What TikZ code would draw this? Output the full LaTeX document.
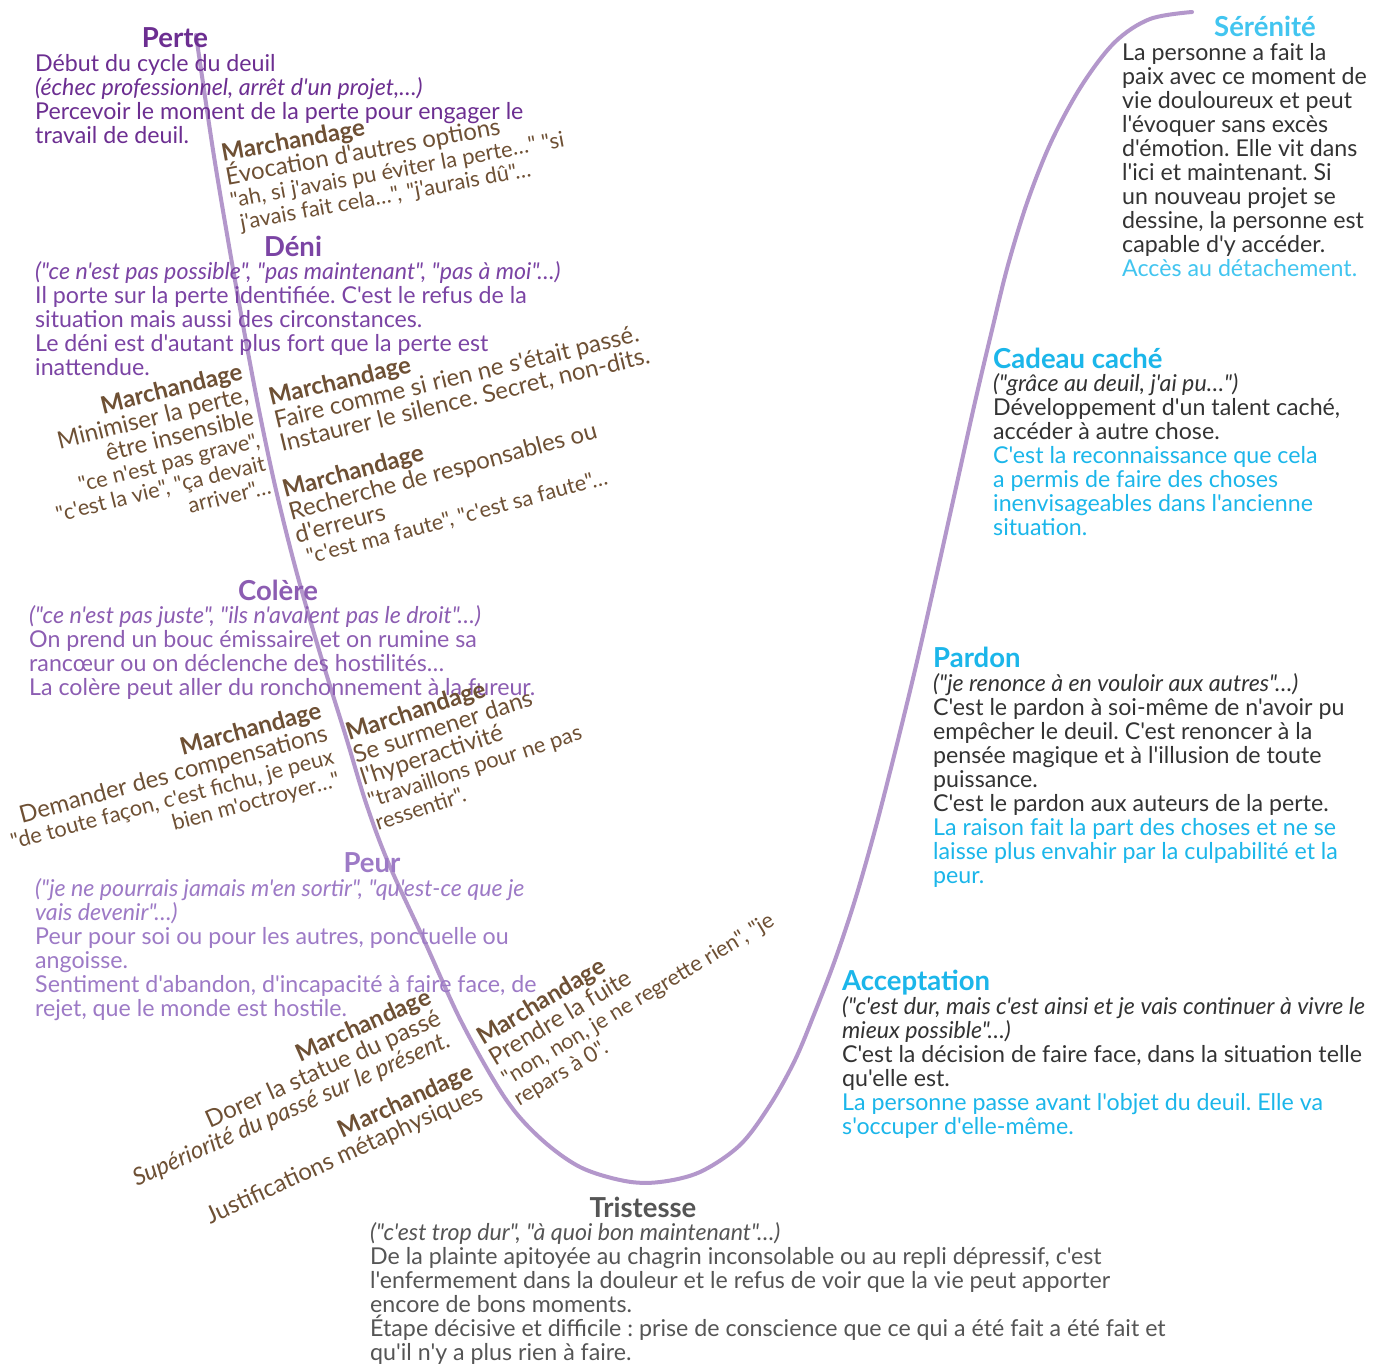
\documentclass[tikz,border=0pt]{standalone}
\usepackage{fontspec}
\setmainfont{Lato}[Ligatures=TeXOff]
\usetikzlibrary{positioning}
\lineskiplimit=-100pt
\lineskip=0pt
\frenchspacing

\definecolor{perte}{HTML}{6C2E91}
\definecolor{deni}{HTML}{7B44A4}
\definecolor{colere}{HTML}{8C5DB2}
\definecolor{peur}{HTML}{9D7AC6}
\definecolor{brun}{HTML}{6E5034}
\definecolor{triste}{HTML}{555555}
\definecolor{ciel}{HTML}{1BB6EA}
\definecolor{cielclair}{HTML}{42C5F0}
\definecolor{encre}{HTML}{333333}
\definecolor{courbe}{HTML}{B397CB}

\newcommand{\cit}[1]{{\itshape #1}}
\newcommand{\dire}[1]{{\fontsize{21.8}{23.5}\selectfont #1}}
\newcommand{\marchand}{{\bfseries Marchandage}}

\begin{document}
\begin{tikzpicture}[x=1pt,y=-1pt,
    etape/.style={font=\bfseries\fontsize{27.5}{28}\selectfont, inner sep=0pt, anchor=base},
    texte/.style={font=\fontsize{23.2}{24}\selectfont, inner sep=0pt, align=left, anchor=base west},
    negoce/.style={text=brun, font=\fontsize{24}{23.5}\selectfont, inner sep=0pt, anchor=base west, align=left},
    negocedroit/.style={negoce, anchor=base east, align=right}]
  \fill[white] (0,0) rectangle (1376,1363);
  \useasboundingbox (0,0) rectangle (1376,1363);

  % la courbe du deuil
  \draw[courbe, line width=4pt, line cap=round] plot[smooth, tension=0.55] coordinates {
    (196,35) (213,150) (228,240) (243,325) (259,410) (276,490) (296,570)
    (319,650) (346,737) (366,803) (388,862) (424,940) (462,1023) (505,1098)
    (540,1138) (580,1167) (625,1181) (660,1182) (700,1172) (740,1145)
    (770,1105) (795,1060) (815,1012) (835,960) (855,900) (875,830) (895,752)
    (915,670) (935,582) (955,492) (975,402) (992,330) (1008,265) (1028,200)
    (1052,140) (1082,85) (1115,42) (1150,19) (1192,12)};

  % Perte
  \node[etape, text=perte] (perte) at (175,47) {Perte};
  \node[texte, text=perte] (perteTxt) at (35,143) {Début du cycle du deuil\\
    \cit{(échec professionnel, arrêt d'un projet,…)}\\
    Percevoir le moment de la perte pour engager le\\
    travail de deuil.};
  \path (223,162) ++(79.5:70.5) node[negoce, rotate=10.5] (m1) {\marchand\\
    Évocation d'autres options\\
    \dire{"ah, si j'avais pu éviter la perte…" "si}\\
    \dire{\ j'avais fait cela…", "j'aurais dû"…}};

  % Deni
  \node[etape, text=deni] (deni) at (293,256) {Déni};
  \node[texte, text=deni] (deniTxt) at (35,375) {\cit{("ce n'est pas possible", "pas maintenant", "pas à moi"…)}\\
    Il porte sur la perte identifiée. C'est le refus de la\\
    situation mais aussi des circonstances.\\
    Le déni est d'autant plus fort que la perte est\\
    inattendue.};
  \path (244,379) ++(76:117.5) node[negocedroit, rotate=14] (m2) {\marchand\\
    Minimiser la perte,\\
    être insensible\\
    \dire{"ce n'est pas grave",}\\
    \dire{"c'est la vie", "ça devait}\\
    \dire{arriver"…}};
  \path (271,406) ++(76.5:47) node[negoce, rotate=13.5] (m3) {\marchand\\
    Faire comme si rien ne s'était passé.\\
    Instaurer le silence. Secret, non-dits.};
  \path (285,498) ++(75:70.5) node[negoce, rotate=15] (m4) {\marchand\\
    Recherche de responsables ou\\
    d'erreurs\\
    \dire{\ "c'est ma faute", "c'est sa faute"…}};

  % Colere
  \node[etape, text=colere] (colere) at (278,600) {Colère};
  \node[texte, text=colere] (colereTxt) at (29,695) {\cit{("ce n'est pas juste", "ils n'avaient pas le droit"…)}\\
    On prend un bouc émissaire et on rumine sa\\
    rancœur ou on déclenche des hostilités…\\
    La colère peut aller du ronchonnement à la fureur.};
  \path (323,718) ++(75:70.5) node[negocedroit, rotate=15] (m5) {\marchand\\
    Demander des compensations\\
    \dire{"de toute façon, c'est fichu, je peux}\\
    \dire{bien m'octroyer…"}};
  \path (349,741) ++(72:94) node[negoce, rotate=18] (m6) {\marchand\\
    Se surmener dans\\
    l'hyperactivité\\
    \dire{"travaillons pour ne pas}\\
    \dire{ressentir".}};

  % Peur
  \node[etape, text=peur] (peur) at (372,872) {Peur};
  \node[texte, text=peur] (peurTxt) at (35,1016) {\cit{("je ne pourrais jamais m'en sortir", "qu'est-ce que je}\\
    \cit{vais devenir"…)}\\
    Peur pour soi ou pour les autres, ponctuelle ou\\
    angoisse.\\
    Sentiment d'abandon, d'incapacité à faire face, de\\
    rejet, que le monde est hostile.};
  \path (433,1003) ++(66:47) node[negocedroit, rotate=24] (m7) {\marchand\\
    Dorer la statue du passé\\
    \cit{Supériorité du passé sur le présent.}};
  \path (475,1078) ++(65.5:23.5) node[negocedroit, rotate=24.5] (m8) {\marchand\\
    Justifications métaphysiques};
  \path (483,1046) ++(59:70.5) node[negoce, rotate=31] (m9) {\marchand\\
    Prendre la fuite\\
    \dire{"non, non, je ne regrette rien", "je}\\
    \dire{repars à 0".}};

  % Tristesse
  \node[etape, text=triste] (tristesse) at (643,1217) {Tristesse};
  \node[texte, text=triste] (tristesseTxt) at (370,1360) {\cit{("c'est trop dur", "à quoi bon maintenant"…)}\\
    De la plainte apitoyée au chagrin inconsolable ou au repli dépressif, c'est\\
    l'enfermement dans la douleur et le refus de voir que la vie peut apporter\\
    encore de bons moments.\\
    Étape décisive et difficile : prise de conscience que ce qui a été fait a été fait et\\
    qu'il n'y a plus rien à faire.};

  % Acceptation
  \node[etape, anchor=base west, text=ciel] (accept) at (842,990) {Acceptation};
  \node[texte, text=encre] (acceptTxt) at (842,1134) {\cit{("c'est dur, mais c'est ainsi et je vais continuer à vivre le}\\
    \cit{mieux possible"…)}\\
    C'est la décision de faire face, dans la situation telle\\
    qu'elle est.\\
    {\color{ciel}La personne passe avant l'objet du deuil. Elle va}\\
    {\color{ciel}s'occuper d'elle-même.}};

  % Pardon
  \node[etape, anchor=base west, text=ciel] (pardon) at (933,667) {Pardon};
  \node[texte, text=encre] (pardonTxt) at (933,883) {\cit{("je renonce à en vouloir aux autres"…)}\\
    C'est le pardon à soi-même de n'avoir pu\\
    empêcher le deuil. C'est renoncer à la\\
    pensée magique et à l'illusion de toute\\
    puissance.\\
    C'est le pardon aux auteurs de la perte.\\
    {\color{ciel}La raison fait la part des choses et ne se}\\
    {\color{ciel}laisse plus envahir par la culpabilité et la}\\
    {\color{ciel}peur.}};

  % Cadeau cache
  \node[etape, anchor=base west, text=ciel] (cadeau) at (993,368) {Cadeau caché};
  \node[texte, text=encre] (cadeauTxt) at (993,535) {\cit{("grâce au deuil, j'ai pu…")}\\
    Développement d'un talent caché,\\
    accéder à autre chose.\\
    {\color{ciel}C'est la reconnaissance que cela}\\
    {\color{ciel}a permis de faire des choses}\\
    {\color{ciel}inenvisageables dans l'ancienne}\\
    {\color{ciel}situation.}};

  % Serenite
  \node[etape, text=cielclair] (serenite) at (1265,36) {Sérénité};
  \node[texte, text=encre] (sereniteTxt) at (1122,276) {La personne a fait la\\
    paix avec ce moment de\\
    vie douloureux et peut\\
    l'évoquer sans excès\\
    d'émotion. Elle vit dans\\
    l'ici et maintenant. Si\\
    un nouveau projet se\\
    dessine, la personne est\\
    capable d'y accéder.\\
    {\color{cielclair}Accès au détachement.}};
\end{tikzpicture}
\end{document}
